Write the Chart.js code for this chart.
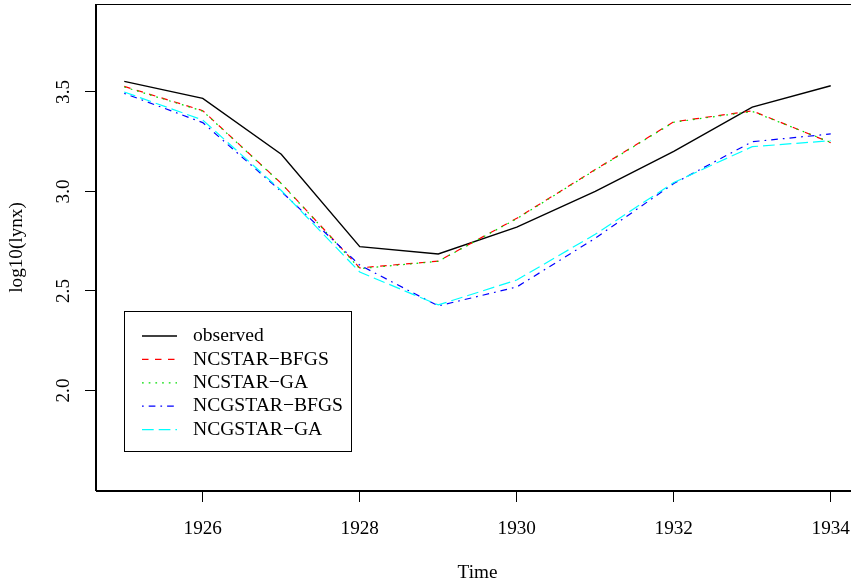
<!DOCTYPE html>
<html>
<head>
<meta charset="utf-8">
<script src="https://cdn.jsdelivr.net/npm/chart.js@4"></script>
<style>
  html, body { margin: 0; padding: 0; background: #fff; overflow: hidden; }
  #wrap { width: 870px; height: 584px; }
</style>
</head>
<body>
<div id="wrap"><canvas id="chart" width="870" height="584"></canvas></div>
<script>
// data (log10 lynx, 1925-1934)
const years = [1925, 1926, 1927, 1928, 1929, 1930, 1931, 1932, 1933, 1934]
const observed = [3.553, 3.468, 3.187, 2.723, 2.686, 2.821, 3.000, 3.201, 3.424, 3.531]
const ncstarBfgs = [3.528, 3.406, 3.041, 2.616, 2.650, 2.865, 3.110, 3.350, 3.405, 3.245]
const ncstarGa = [3.525, 3.404, 3.040, 2.612, 2.649, 2.863, 3.108, 3.348, 3.402, 3.247]
const ncgstarBfgs = [3.493, 3.346, 3.000, 2.630, 2.425, 2.520, 2.765, 3.040, 3.250, 3.289]
const ncgstarGa = [3.500, 3.359, 3.005, 2.595, 2.430, 2.555, 2.785, 3.045, 3.225, 3.255]

const xTicks = [1926, 1928, 1930, 1932, 1934]
const yTicks = [2.0, 2.5, 3.0, 3.5]

const seriesNames = ['observed', 'NCSTAR\u2212BFGS', 'NCSTAR\u2212GA', 'NCGSTAR\u2212BFGS', 'NCGSTAR\u2212GA']
const seriesData = [observed, ncstarBfgs, ncstarGa, ncgstarBfgs, ncgstarGa]
const colors = ['#000000', '#FF0000', '#00DD00', '#0000FF', '#00FFFF']
const dashes = [[], [6.5, 6.5], [1.7, 5], [1.7, 5, 6.7, 5], [11.7, 5]]

const fontFamily = '"Liberation Serif", "DejaVu Serif", serif'

const datasets = seriesNames.map((label, i) => ({
  label,
  data: years.map((y, j) => ({ x: y, y: seriesData[i][j] })),
  borderColor: colors[i],
  backgroundColor: colors[i],
  borderWidth: i === 0 ? 1.4 : 1.2,
  borderDash: dashes[i],
  pointRadius: 0,
  tension: 0,
  fill: false,
  order: seriesNames.length - i,
}))

// full frame around plot region, like R's box()
const boxPlugin = {
  id: 'frameBox',
  afterDraw(chart) {
    const { ctx, chartArea } = chart
    ctx.save()
    ctx.strokeStyle = '#000'
    ctx.lineWidth = 1
    const l = Math.round(chartArea.left) - 0.5
    const t = Math.round(chartArea.top) + 0.5
    const r = Math.round(chartArea.right) - 0.5
    const b = Math.round(chartArea.bottom) - 0.5
    ctx.strokeRect(l, t, r - l, b - t)
    ctx.restore()
  },
}

// legend box inside the plot, bottom left
const legendPlugin = {
  id: 'boxLegend',
  afterDraw(chart) {
    const { ctx, chartArea } = chart
    const x0 = chartArea.left + 28
    const y0 = chartArea.top + 307
    const w = 227
    const h = 140
    ctx.save()
    ctx.fillStyle = '#fff'
    ctx.fillRect(x0, y0, w, h)
    ctx.strokeStyle = '#000'
    ctx.lineWidth = 1
    ctx.strokeRect(x0 + 0.5, y0 + 0.5, w, h)
    ctx.font = '19.6px ' + fontFamily
    ctx.textBaseline = 'middle'
    ctx.textAlign = 'left'
    chart.data.datasets.forEach((ds, i) => {
      const yy = y0 + 25 + i * 23.4
      ctx.strokeStyle = ds.borderColor
      ctx.lineWidth = ds.borderWidth
      ctx.setLineDash(ds.borderDash)
      ctx.beginPath()
      ctx.moveTo(x0 + 18, yy)
      ctx.lineTo(x0 + 53, yy)
      ctx.stroke()
      ctx.setLineDash([])
      ctx.fillStyle = '#000'
      ctx.fillText(ds.label, x0 + 69, yy)
    })
    ctx.restore()
  },
}

const config = {
  type: 'line',
  data: { datasets },
  options: {
    responsive: false,
    animation: false,
    devicePixelRatio: 1,
    layout: { padding: { left: 0, top: 4, right: 11, bottom: 0 } },
    plugins: {
      legend: { display: false },
      tooltip: { enabled: false },
    },
    scales: {
      x: {
        type: 'linear',
        min: 1924.64,
        max: 1934.36,
        afterBuildTicks: (scale) => {
          scale.ticks = xTicks.map((v) => ({ value: v }))
        },
        afterFit: (scale) => {
          scale.height = 93
          scale.paddingLeft = 0
          scale.paddingRight = 0
        },
        ticks: {
          color: '#000',
          padding: 15,
          maxRotation: 0,
          font: { family: fontFamily, size: 19.2 },
          callback: (v) => String(v),
        },
        grid: {
          drawOnChartArea: false,
          drawTicks: true,
          tickLength: 11,
          color: '#000',
        },
        border: { display: true, color: '#000' },
        title: {
          display: true,
          text: 'Time',
          color: '#000',
          font: { family: fontFamily, size: 19.2 },
          padding: { top: 0, bottom: 0 },
        },
      },
      y: {
        type: 'linear',
        min: 1.495,
        max: 3.942,
        afterBuildTicks: (scale) => {
          scale.ticks = yTicks.map((v) => ({ value: v }))
        },
        afterFit: (scale) => {
          scale.width = 96
          scale.paddingTop = 0
          scale.paddingBottom = 0
        },
        ticks: {
          color: '#000',
          padding: 9,
          minRotation: 90,
          maxRotation: 90,
          crossAlign: 'center',
          font: { family: fontFamily, size: 19.2 },
          callback: (v) => v.toFixed(1),
        },
        grid: {
          drawOnChartArea: false,
          drawTicks: true,
          tickLength: 11,
          color: '#000',
        },
        border: { display: true, color: '#000' },
        title: {
          display: true,
          text: 'log10(lynx)',
          color: '#000',
          font: { family: fontFamily, size: 19.2 },
          padding: { top: 5, bottom: 0 },
        },
      },
    },
  },
  plugins: [boxPlugin, legendPlugin],
}

new Chart(document.getElementById('chart').getContext('2d'), config)
</script>
</body>
</html>
